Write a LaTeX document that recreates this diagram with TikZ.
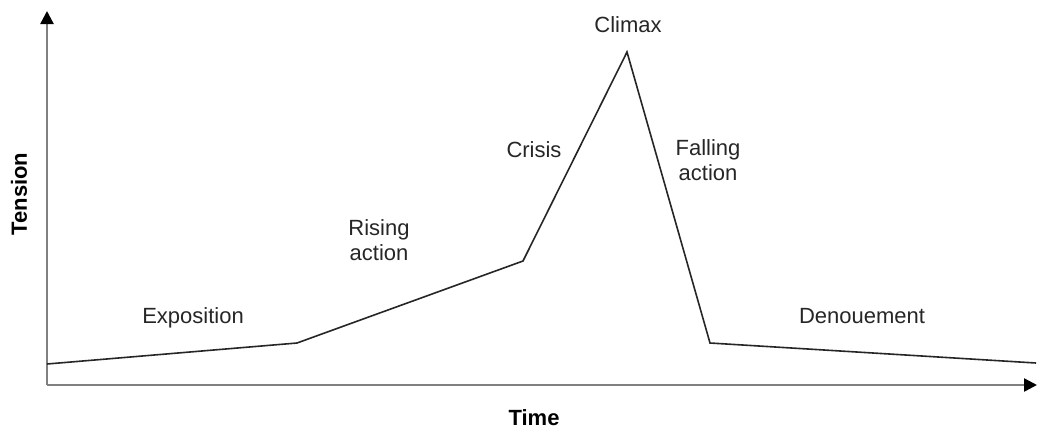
\documentclass[tikz,border=0pt]{standalone}
\usepackage{fontspec}
\setmainfont{Liberation Sans}
\usetikzlibrary{arrows.meta}
\tikzset{
  axis/.style={draw=black!50, line width=2.4pt, -{Triangle[length=13pt,width=13pt,fill=black,color=black]}},
  curve/.style={draw=black!85, line width=1.6pt, line join=miter},
  lbl/.style={font=\fontsize{22}{25}\selectfont, text=black!85, anchor=base, inner sep=0pt, align=center},
  albl/.style={font=\fontsize{22}{26}\selectfont\bfseries, text=black, inner sep=0pt}
}
\begin{document}
\begin{tikzpicture}[x=1pt,y=-1pt]
\useasboundingbox (0,0) rectangle (1038,432);
% axes
\coordinate (O) at (47,385);
\coordinate (Ytop) at (47,11);
\coordinate (Xend) at (1037,385);
\draw[axis] (O) -- (Ytop);
\draw[axis] (O) -- (Xend);
% curve points
\coordinate (p0) at (47,364);
\coordinate (p1) at (297,343);
\coordinate (p2) at (523,261);
\coordinate (p3) at (627,52);
\coordinate (p4) at (710,343);
\coordinate (p5) at (1036,363);
\draw[curve] (p0) -- (p1) -- (p2) -- (p3) -- (p4) -- (p5);
% labels
\node[lbl] (climax) at (628,32) {Climax};
\node[lbl] (crisis) at (534,157) {Crisis};
\node[lbl] (falling) at (708,180) {Falling\\action};
\node[lbl] (rising) at (379,260) {Rising\\action};
\node[lbl] (expo) at (193,323) {Exposition};
\node[lbl] (denoue) at (862,323) {Denouement};
% axis labels
\node[albl] (time) at (534,418) {Time};
\node[albl, rotate=90] (tension) at (19,194) {Tension};
\end{tikzpicture}
\end{document}
